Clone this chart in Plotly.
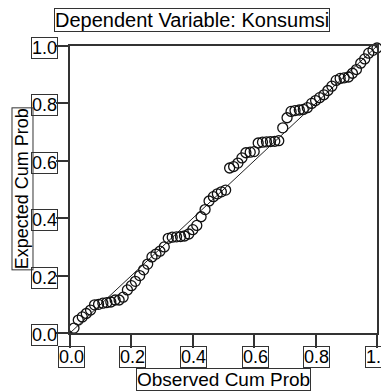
import plotly.graph_objects as go

observed = [0.013, 0.027, 0.040, 0.053, 0.067, 0.080, 0.093, 0.107, 0.120, 0.133,
            0.147, 0.160, 0.173, 0.187, 0.200, 0.213, 0.227, 0.240, 0.253, 0.267,
            0.280, 0.293, 0.307, 0.320, 0.333, 0.347, 0.360, 0.373, 0.387, 0.400,
            0.413, 0.427, 0.440, 0.453, 0.467, 0.480, 0.493, 0.507, 0.520, 0.533,
            0.547, 0.560, 0.573, 0.587, 0.600, 0.613, 0.627, 0.640, 0.653, 0.667,
            0.680, 0.693, 0.707, 0.720, 0.733, 0.747, 0.760, 0.773, 0.787, 0.800,
            0.813, 0.827, 0.840, 0.853, 0.867, 0.880, 0.893, 0.907, 0.920, 0.933,
            0.947, 0.960, 0.973, 0.987, 1.000]
expected = [0.017, 0.045, 0.056, 0.068, 0.080, 0.098, 0.100, 0.104, 0.106, 0.108,
            0.115, 0.115, 0.125, 0.150, 0.165, 0.180, 0.200, 0.220, 0.240, 0.265,
            0.275, 0.285, 0.300, 0.330, 0.334, 0.335, 0.336, 0.338, 0.345, 0.360,
            0.375, 0.405, 0.430, 0.460, 0.475, 0.485, 0.492, 0.498, 0.575, 0.580,
            0.592, 0.610, 0.628, 0.630, 0.632, 0.662, 0.665, 0.666, 0.667, 0.668,
            0.670, 0.715, 0.750, 0.772, 0.775, 0.777, 0.779, 0.785, 0.800, 0.810,
            0.820, 0.830, 0.845, 0.860, 0.880, 0.887, 0.889, 0.892, 0.905, 0.918,
            0.940, 0.955, 0.975, 0.985, 0.993]

tick_vals = [0.0, 0.2, 0.4, 0.6, 0.8, 1.0]
tick_text = ["0.0", "0.2", "0.4", "0.6", "0.8", "1.0"]
title_text = "Dependent Variable: Konsumsi"
x_title = "Observed Cum Prob"
y_title = "Expected Cum Prob"

FONT = "Liberation Sans, Arial, sans-serif"
AX = "#333333"

fig = go.Figure()
fig.add_trace(go.Scatter(x=[0, 1], y=[0, 1], mode="lines",
                         line=dict(color="#222222", width=1), hoverinfo="skip",
                         showlegend=False))
fig.add_trace(go.Scatter(x=observed, y=expected, mode="markers",
                         marker=dict(symbol="circle-open", size=10, color="#111111",
                                     line=dict(color="#111111", width=1.3)),
                         cliponaxis=False, showlegend=False))

axis_common = dict(range=[0, 1], showgrid=False, zeroline=False, showline=True,
                   linecolor=AX, linewidth=2, mirror=True, ticks="outside",
                   tickcolor=AX, tickwidth=1.5, tickvals=tick_vals,
                   showticklabels=False)
fig.update_xaxes(**axis_common, ticklen=13)
fig.update_yaxes(**axis_common, ticklen=12)


def box(size):
    return dict(bordercolor=AX, borderwidth=1, borderpad=0,
                font=dict(family=FONT, size=size, color="black"), showarrow=False)


ann = []
for v, t in zip(tick_vals, tick_text):
    ann.append(dict(text=t, xref="x", yref="paper", x=v, y=0, yanchor="top",
                    xanchor="center", yshift=-13, xshift=1, **box(18)))
    ann.append(dict(text=t, xref="paper", yref="y", x=0, y=v, xanchor="right",
                    yanchor="middle", xshift=-12, yshift=-2, **box(18)))
ann.append(dict(text=title_text, xref="paper", yref="paper", x=0.396, y=1.092,
                xanchor="center", yanchor="middle", **box(20)))
ann.append(dict(text=x_title, xref="paper", yref="paper", x=0.501, y=-0.163,
                xanchor="center", yanchor="middle", **box(19)))
ann.append(dict(text=y_title, xref="paper", yref="paper", x=-0.155, y=0.502,
                xanchor="center", yanchor="middle", textangle=-90, **box(18)))

fig.update_layout(width=381, height=384,
                  margin=dict(l=62, r=10, t=38, b=59),
                  paper_bgcolor="white", plot_bgcolor="white",
                  annotations=ann, font=dict(family=FONT))

fig.write_html("out.html")
